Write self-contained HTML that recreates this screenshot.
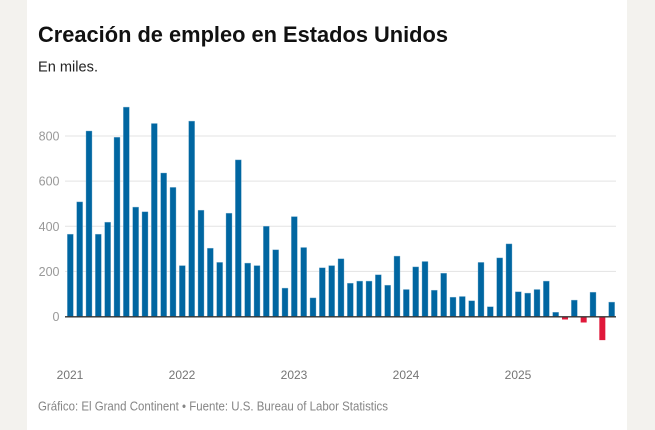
<!DOCTYPE html>
<html>
<head>
<meta charset="utf-8">
<style>
html,body{margin:0;padding:0}
body{width:655px;height:430px;overflow:hidden;background:#f3f2ee}
svg{display:block}
</style>
</head>
<body>
<svg width="655" height="430" viewBox="0 0 655 430" xmlns="http://www.w3.org/2000/svg">
<rect x="0" y="0" width="655" height="430" fill="#f3f2ee"/>
<rect x="27" y="0" width="600" height="430" fill="#ffffff"/>
<text x="38" y="42" font-family="Liberation Sans, Arial, sans-serif" font-weight="bold" font-size="22" fill="#111111" textLength="410" lengthAdjust="spacingAndGlyphs">Creación de empleo en Estados Unidos</text>
<text x="38" y="71.5" font-family="Liberation Sans, Arial, sans-serif" font-size="15" fill="#222222" textLength="60" lengthAdjust="spacingAndGlyphs">En miles.</text>
<path d="M65 136H616M65 181.1H616M65 226.3H616M65 271.4H616" stroke="#e3e3e3" stroke-width="1" fill="none"/>
<g font-family="Liberation Sans, Arial, sans-serif" font-size="12.5" fill="#999999" text-anchor="end">
<text x="59.5" y="140.5">800</text>
<text x="59.5" y="185.6">600</text>
<text x="59.5" y="230.8">400</text>
<text x="59.5" y="275.9">200</text>
<text x="59.5" y="321">0</text>
</g>
<path fill="#0066a1" stroke="#7fb2d0" stroke-width="0.4" d="M67.33 234.2h6V316.6h-6z M76.67 201.9h6V316.6h-6z M86 131h6V316.6h-6z M95.33 234.2h6V316.6h-6z M104.67 222.2h6V316.6h-6z M114 137.3h6V316.6h-6z M123.33 107.1h6V316.6h-6z M132.67 207.1h6V316.6h-6z M142 211.8h6V316.6h-6z M151.33 123.5h6V316.6h-6z M160.67 173h6V316.6h-6z M170 187.4h6V316.6h-6z M179.33 265.6h6V316.6h-6z M188.67 121.1h6V316.6h-6z M198 210.2h6V316.6h-6z M207.33 248.2h6V316.6h-6z M216.67 262.4h6V316.6h-6z M226 213.2h6V316.6h-6z M235.33 159.9h6V316.6h-6z M244.67 263.1h6V316.6h-6z M254 265.6h6V316.6h-6z M263.33 226.3h6V316.6h-6z M272.67 249.8h6V316.6h-6z M282 288.1h6V316.6h-6z M291.33 216.6h6V316.6h-6z M300.67 247.5h6V316.6h-6z M310 297.9h6V316.6h-6z M319.33 267.8h6V316.6h-6z M328.67 265.6h6V316.6h-6z M338 258.8h6V316.6h-6z M347.33 283.2h6V316.6h-6z M356.67 281.1h6V316.6h-6z M366 281.1h6V316.6h-6z M375.33 274.8h6V316.6h-6z M384.67 285.2h6V316.6h-6z M394 256.1h6V316.6h-6z M403.33 289.5h6V316.6h-6z M412.67 266.9h6V316.6h-6z M422 261.5h6V316.6h-6z M431.33 290.2h6V316.6h-6z M440.67 273.2h6V316.6h-6z M450 297.2h6V316.6h-6z M459.33 296.5h6V316.6h-6z M468.67 300.8h6V316.6h-6z M478 262.4h6V316.6h-6z M487.33 306.7h6V316.6h-6z M496.67 257.9h6V316.6h-6z M506 243.9h6V316.6h-6z M515.33 291.8h6V316.6h-6z M524.67 293.1h6V316.6h-6z M534 289.5h6V316.6h-6z M543.33 281.1h6V316.6h-6z M552.67 312.3h6V316.6h-6z M571.33 300.1h6V316.6h-6z M590 292.2h6V316.6h-6z M608.67 302.1h6V316.6h-6z"/>
<path fill="#e0183a" d="M562 316.6h6v2.9h-6z M580.67 316.6h6v5.9h-6z M599.33 316.6h6v23.5h-6z"/>
<path d="M65 316.8H616" stroke="#333333" stroke-width="1.4" fill="none"/>
<g font-family="Liberation Sans, Arial, sans-serif" font-size="12" fill="#757575" text-anchor="middle">
<text x="70" y="379">2021</text>
<text x="182" y="379">2022</text>
<text x="294" y="379">2023</text>
<text x="406" y="379">2024</text>
<text x="518" y="379">2025</text>
</g>
<text x="38" y="410.5" font-family="Liberation Sans, Arial, sans-serif" font-size="12.5" fill="#858585" textLength="350" lengthAdjust="spacingAndGlyphs">Gráfico: El Grand Continent • Fuente: U.S. Bureau of Labor Statistics</text>
</svg>
</body>
</html>
